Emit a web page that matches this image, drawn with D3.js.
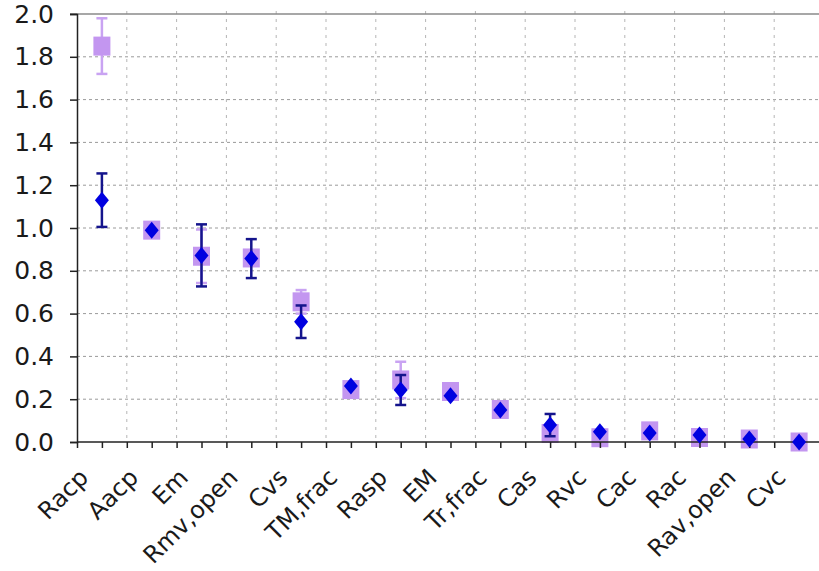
<!DOCTYPE html>
<html>
<head>
<meta charset="utf-8">
<script src="https://cdn.jsdelivr.net/npm/d3@7"></script>
<style>
  html, body { margin: 0; padding: 0; background: #fff; }
  svg { display: block; font-family: "DejaVu Sans", Verdana, sans-serif; }
</style>
</head>
<body>
<div id="chart"></div>
<script>
(function () {
  "use strict";

  // Data.
  var categories = ["Racp", "Aacp", "Em", "Rmv,open", "Cvs", "TM,frac", "Rasp", "EM",
    "Tr,frac", "Cas", "Rvc", "Cac", "Rac", "Rav,open", "Cvc"];
  var squareValues = [1.85, 0.99, 0.868, 0.86, 0.655, 0.245, 0.29, 0.236, 0.152, 0.04, 0.02, 0.052, 0.021, 0.014, 0.0];
  var squareErrors = [0.13, 0.02, 0.125, 0.03, 0.055, 0.02, 0.085, 0.02, 0.02, 0.02, 0.02, 0.02, 0.02, 0.02, 0.02];
  var diamondValues = [1.13, 0.99, 0.872, 0.857, 0.562, 0.262, 0.243, 0.216, 0.15, 0.079, 0.048, 0.042, 0.033, 0.014, 0.0];
  var diamondErrors = [0.125, 0, 0.145, 0.091, 0.076, 0, 0.07, 0, 0, 0.052, 0, 0, 0, 0, 0];
  var yTicks = [0, 0.2, 0.4, 0.6, 0.8, 1.0, 1.2, 1.4, 1.6, 1.8, 2.0];

  var colors = {
    square: "#c396f0",
    squareErr: "#c9a3f2",
    diamond: "#0000e0",
    diamondErr: "#14148c",
    grid: "#9a9a9a",
    axis: "#222",
    text: "#1a1a1a"
  };

  var width = 819, height = 571;
  var left = 77, top = 14, bottom = 442;
  var band = 49.8;

  var svg = d3.select("#chart").append("svg")
    .attr("width", width)
    .attr("height", height);

  var x = d3.scaleBand().domain(categories)
    .range([left, left + band * categories.length]).padding(0);
  var xIdx = d3.scaleLinear().domain([0, categories.length])
    .range([left, left + band * categories.length]);
  var y = d3.scaleLinear().domain([0, 2]).range([bottom, top]);

  function cx(i) { return x(categories[i]) + x.bandwidth() / 2; }

  // Grid.
  var grid = svg.append("g").attr("class", "grid");
  grid.selectAll("line.h")
    .data(yTicks.filter(function (d) { return d > 0 && d < 2; }))
    .enter().append("line")
    .attr("x1", left).attr("x2", width)
    .attr("y1", function (d) { return y(d); })
    .attr("y2", function (d) { return y(d); })
    .attr("stroke", colors.grid).attr("stroke-width", 1)
    .attr("stroke-dasharray", "3 3");
  grid.selectAll("line.v")
    .data(d3.range(1, categories.length))
    .enter().append("line")
    .attr("x1", function (d) { return xIdx(d); })
    .attr("x2", function (d) { return xIdx(d); })
    .attr("y1", top - 3).attr("y2", bottom)
    .attr("stroke", "#b5b5b5").attr("stroke-width", 1)
    .attr("stroke-dasharray", "3 5");
  // Top border.
  svg.append("line")
    .attr("x1", left - 7).attr("x2", width)
    .attr("y1", y(2)).attr("y2", y(2))
    .attr("stroke", "#8a8a8a").attr("stroke-width", 1.5);

  // Error bar helper.
  function errorBars(values, errors, color, capW) {
    var g = svg.append("g");
    var idx = d3.range(values.length).filter(function (i) { return errors[i] > 0; });
    var sel = g.selectAll("g").data(idx).enter().append("g")
      .attr("stroke", color).attr("stroke-width", 2.5).attr("fill", "none");
    sel.append("line")
      .attr("x1", cx).attr("x2", cx)
      .attr("y1", function (i) { return y(values[i] + errors[i]); })
      .attr("y2", function (i) { return y(values[i] - errors[i]); });
    sel.append("line")
      .attr("x1", function (i) { return cx(i) - capW / 2; })
      .attr("x2", function (i) { return cx(i) + capW / 2; })
      .attr("y1", function (i) { return y(values[i] + errors[i]); })
      .attr("y2", function (i) { return y(values[i] + errors[i]); });
    sel.append("line")
      .attr("x1", function (i) { return cx(i) - capW / 2; })
      .attr("x2", function (i) { return cx(i) + capW / 2; })
      .attr("y1", function (i) { return y(values[i] - errors[i]); })
      .attr("y2", function (i) { return y(values[i] - errors[i]); });
  }

  // Square series.
  errorBars(squareValues, squareErrors, colors.squareErr, 11);
  svg.append("g").selectAll("rect")
    .data(squareValues).enter().append("rect")
    .attr("x", function (d, i) { return cx(i) - 8.5; })
    .attr("y", function (d) { return y(d) - 9.5; })
    .attr("width", 17).attr("height", 19)
    .attr("fill", colors.square);

  // Axes.
  var yAxis = svg.append("g")
    .attr("transform", "translate(" + left + ",0)")
    .call(d3.axisLeft(y).tickValues(yTicks).tickFormat(d3.format(".1f"))
      .tickSize(7).tickPadding(16));
  yAxis.select(".domain").attr("stroke", colors.axis).attr("stroke-width", 1.5);
  yAxis.selectAll(".tick line").attr("stroke", colors.axis).attr("stroke-width", 1.5);
  yAxis.selectAll(".tick text")
    .attr("fill", colors.text)
    .style("font-size", "25px")
    .style("font-family", "'DejaVu Sans', Verdana, sans-serif");

  var xAxis = svg.append("g")
    .attr("transform", "translate(0," + bottom + ")")
    .call(d3.axisBottom(xIdx).tickValues(d3.range(0, categories.length + 0.01, 0.5))
      .tickFormat("").tickSize(6).tickSizeOuter(0));
  xAxis.select(".domain").attr("stroke", colors.axis).attr("stroke-width", 1.5)
    .attr("d", "M" + left + ",0H" + width);
  xAxis.selectAll(".tick line").attr("stroke", colors.axis).attr("stroke-width", 1.5);

  // Category labels.
  svg.append("g").selectAll("text")
    .data(categories).enter().append("text")
    .attr("transform", function (d, i) {
      return "translate(" + (cx(i) - 12) + "," + (bottom + 37) + ") rotate(-45)";
    })
    .attr("text-anchor", "end")
    .attr("fill", colors.text)
    .style("font-size", "24px")
    .text(function (d) { return d; });

  // Diamond series.
  errorBars(diamondValues, diamondErrors, colors.diamondErr, 11);
  svg.append("g").selectAll("path")
    .data(diamondValues).enter().append("path")
    .attr("transform", function (d, i) { return "translate(" + cx(i) + "," + y(d) + ")"; })
    .attr("d", "M0,-8.5L7,0L0,8.5L-7,0Z")
    .attr("fill", colors.diamond);
})();
</script>
</body>
</html>
